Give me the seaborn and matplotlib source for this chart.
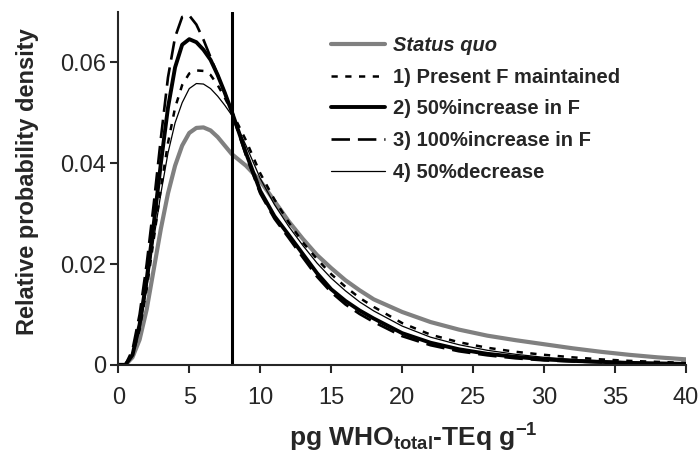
#!/usr/bin/env python

import matplotlib
matplotlib.use("Agg")
import matplotlib.pyplot as plt
import pandas as pd
import seaborn as sns


# Concentration grid (pg WHO-TEq per g) and densities
XS = [0, 0.5, 1, 1.5, 2, 2.5, 3, 3.5, 4, 4.5, 5, 5.5, 6, 6.5, 7, 7.5, 8,
      9, 10, 11, 12, 13, 14, 15, 16, 17, 18, 20, 22, 24, 26, 28, 30,
      32, 34, 36, 38, 40]

STATUS_QUO = [0, 0.0, 0.0015, 0.005, 0.011, 0.019, 0.027, 0.034, 0.0395, 0.0435,
              0.046, 0.047, 0.0471, 0.0465, 0.0452, 0.0435, 0.0418,
              0.0395, 0.0365, 0.0325, 0.0285, 0.025, 0.0218, 0.0192, 0.0168,
              0.0148, 0.013, 0.0105, 0.0085, 0.007, 0.0058, 0.0049, 0.0041,
              0.0033, 0.0026, 0.002, 0.0015, 0.0011]
PRESENT_F = [0, 0.0, 0.002, 0.007, 0.015, 0.025, 0.035, 0.044, 0.051, 0.0555,
             0.0578, 0.0584, 0.0583, 0.0575, 0.0555, 0.053, 0.0502,
             0.0445, 0.038, 0.0328, 0.0283, 0.0243, 0.021, 0.018, 0.0155,
             0.0133, 0.0115, 0.0083, 0.006, 0.0045, 0.0034, 0.0026, 0.002,
             0.0015, 0.0011, 0.0008, 0.0006, 0.0004]
F_UP_50 = [0, 0.0, 0.002, 0.008, 0.017, 0.028, 0.04, 0.051, 0.059, 0.0635,
           0.0646, 0.064, 0.0625, 0.0605, 0.0575, 0.054, 0.0502,
           0.042, 0.0345, 0.0295, 0.0258, 0.022, 0.0182, 0.015, 0.0127,
           0.0108, 0.0092, 0.0063, 0.0044, 0.0031, 0.0022, 0.0016, 0.0011,
           0.0008, 0.0006, 0.0004, 0.0003, 0.0002]
F_UP_100 = [0, 0.0, 0.003, 0.01, 0.02, 0.032, 0.045, 0.057, 0.065, 0.069,
            0.0693, 0.0675, 0.0645, 0.061, 0.0575, 0.054, 0.05,
            0.0415, 0.034, 0.029, 0.0252, 0.0213, 0.0175, 0.0144, 0.012,
            0.0101, 0.0085, 0.0057, 0.0039, 0.0027, 0.0019, 0.0013, 0.0009,
            0.0007, 0.0005, 0.0003, 0.0002, 0.0002]
F_DOWN_50 = [0, 0.0, 0.002, 0.007, 0.015, 0.025, 0.034, 0.042, 0.048, 0.052,
             0.0548, 0.0558, 0.0557, 0.0548, 0.0533, 0.0515, 0.0495,
             0.0435, 0.037, 0.0318, 0.0275, 0.0237, 0.0202, 0.0172, 0.0147,
             0.0125, 0.0107, 0.0077, 0.0055, 0.004, 0.0029, 0.0021, 0.0015,
             0.0011, 0.0008, 0.0006, 0.0004, 0.0003]

LABELS = ["Status quo", "1) Present F maintained", "2) 50%increase in F",
          "3) 100%increase in F", "4) 50%decrease"]
THRESHOLD = 8


def main():
    sns.set_style("ticks")
    plt.rcParams["font.family"] = ["Liberation Sans", "DejaVu Sans"]
    plt.rcParams["mathtext.fontset"] = "custom"
    plt.rcParams["mathtext.bf"] = "Liberation Sans:bold"
    plt.rcParams["mathtext.rm"] = "Liberation Sans"
    plt.rcParams["mathtext.default"] = "bf"

    series = [STATUS_QUO, PRESENT_F, F_UP_50, F_UP_100, F_DOWN_50]
    df = pd.concat([pd.DataFrame({"x": XS, "density": s, "scenario": lab})
                    for s, lab in zip(series, LABELS)])

    styles = {
        LABELS[0]: dict(color="#808080", lw=3.0, ls="-"),
        LABELS[1]: dict(color="black", lw=1.8, ls=(0, (2.5, 3))),
        LABELS[2]: dict(color="black", lw=2.8, ls="-"),
        LABELS[3]: dict(color="black", lw=1.9, ls=(0, (7, 3))),
        LABELS[4]: dict(color="black", lw=0.9, ls="-"),
    }

    fig, ax = plt.subplots(figsize=(7, 4.59), dpi=100)
    for lab in LABELS:
        st = styles[lab]
        sns.lineplot(data=df[df["scenario"] == lab], x="x", y="density",
                     color=st["color"], lw=st["lw"], linestyle=st["ls"],
                     label=lab, ax=ax)

    ax.axvline(THRESHOLD, color="black", lw=2.2)

    ax.set_xlim(0, 40)
    ax.set_ylim(0, 0.07)
    ax.set_xticks(range(0, 41, 5))
    ax.set_yticks([0, 0.02, 0.04, 0.06])
    ax.set_yticklabels(["0", "0.02", "0.04", "0.06"])
    ax.tick_params(labelsize=17, width=1.5, length=6, direction="out")
    ax.tick_params(axis="x", pad=10)
    ax.tick_params(axis="y", pad=3)
    for side in ("left", "bottom"):
        ax.spines[side].set_linewidth(1.5)
    sns.despine(ax=ax)

    ax.set_xlabel(r"pg WHO$_{total}$-TEq g$^{-1}$", fontsize=19,
                  fontweight="bold")
    ax.set_ylabel("Relative probability density", fontsize=17,
                  fontweight="bold")
    ax.xaxis.set_label_coords(0.52, -0.16)
    ax.yaxis.set_label_coords(-0.14, 0.518)

    leg = ax.legend(loc="upper left", bbox_to_anchor=(0.36, 0.955),
                    frameon=False, fontsize=14.5, handlelength=2.7,
                    handletextpad=0.4, labelspacing=0.63, borderaxespad=0)
    for t in leg.get_texts():
        t.set_fontweight("bold")
    leg.get_texts()[0].set_style("italic")

    plt.subplots_adjust(left=0.169, right=0.98, bottom=0.205, top=0.974)
    plt.savefig("out.png", dpi=100)


if __name__ == '__main__':
    main()
